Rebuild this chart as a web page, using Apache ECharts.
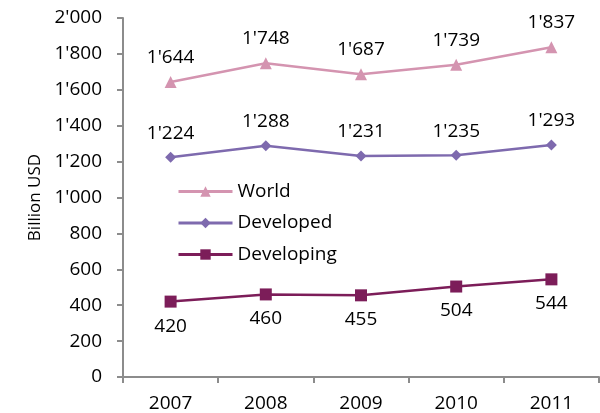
<!DOCTYPE html>
<html>
<head>
<meta charset="utf-8">
<script src="https://cdn.jsdelivr.net/npm/echarts@6/dist/echarts.min.js"></script>
<style>
html,body{margin:0;padding:0;background:#fff;}
#chart{width:600px;height:413px;}
</style>
</head>
<body>
<div id="chart"></div>
<script>
var categories = ['2007', '2008', '2009', '2010', '2011'];
var worldValues = [1644, 1748, 1687, 1739, 1837];
var developedValues = [1224, 1288, 1231, 1235, 1293];
var developingValues = [420, 460, 455, 504, 544];
var seriesNames = ['World', 'Developed', 'Developing'];
var yTicks = [0, 200, 400, 600, 800, 1000, 1200, 1400, 1600, 1800, 2000];

function fmt(v) {
  var s = String(Math.round(v));
  return s.replace(/\B(?=(\d{3})+(?!\d))/g, "'");
}

var FONT = 'Open Sans';
var FS = 19;
var chart = echarts.init(document.getElementById('chart'));

function mk(name, data, color, symbol, size, pos, dist) {
  return {
    name: name,
    type: 'line',
    data: data,
    symbol: symbol,
    symbolSize: size,
    lineStyle: {color: color, width: 2.5},
    itemStyle: {color: color},
    label: {
      show: true,
      position: pos,
      distance: dist,
      formatter: function (p) { return fmt(p.value); },
      color: '#000',
      fontFamily: FONT,
      fontSize: FS
    }
  };
}

chart.setOption({
  animation: false,
  backgroundColor: '#fff',
  grid: {left: 123, right: 1, top: 18, bottom: 36},
  legend: {
    orient: 'vertical',
    left: 172,
    top: 177,
    itemWidth: 54,
    itemHeight: 13,
    itemGap: 12.5,
    data: seriesNames,
    lineStyle: {width: 3},
    textStyle: {fontFamily: FONT, fontSize: FS, color: '#000'}
  },
  xAxis: {
    type: 'category',
    data: categories,
    boundaryGap: true,
    axisLine: {lineStyle: {color: '#8c8c8c', width: 2}},
    axisTick: {show: true, inside: false, length: 6, alignWithLabel: false, lineStyle: {color: '#8c8c8c', width: 2}},
    axisLabel: {color: '#000', fontFamily: FONT, fontSize: FS, margin: 17}
  },
  yAxis: {
    type: 'value',
    min: 0,
    max: 2000,
    interval: 200,
    name: 'Billion USD',
    nameLocation: 'middle',
    nameGap: 74,
    nameTextStyle: {color: '#000', fontFamily: FONT, fontSize: 17},
    axisLine: {show: true, lineStyle: {color: '#8c8c8c', width: 2}},
    axisTick: {show: true, inside: false, length: 6, lineStyle: {color: '#8c8c8c', width: 2}},
    splitLine: {show: false},
    axisLabel: {color: '#000', fontFamily: FONT, fontSize: FS, margin: 21,
      formatter: function (v) { return yTicks.indexOf(v) >= 0 ? fmt(v) : ''; }}
  },
  series: [
    mk(seriesNames[0], worldValues, '#d494b0', 'triangle', 12, 'top', 9),
    mk(seriesNames[1], developedValues, '#7e6aae', 'diamond', 11, 'top', 9),
    mk(seriesNames[2], developingValues, '#7c1d59', 'rect', 12, 'bottom', 9)
  ]
});
</script>
</body>
</html>
